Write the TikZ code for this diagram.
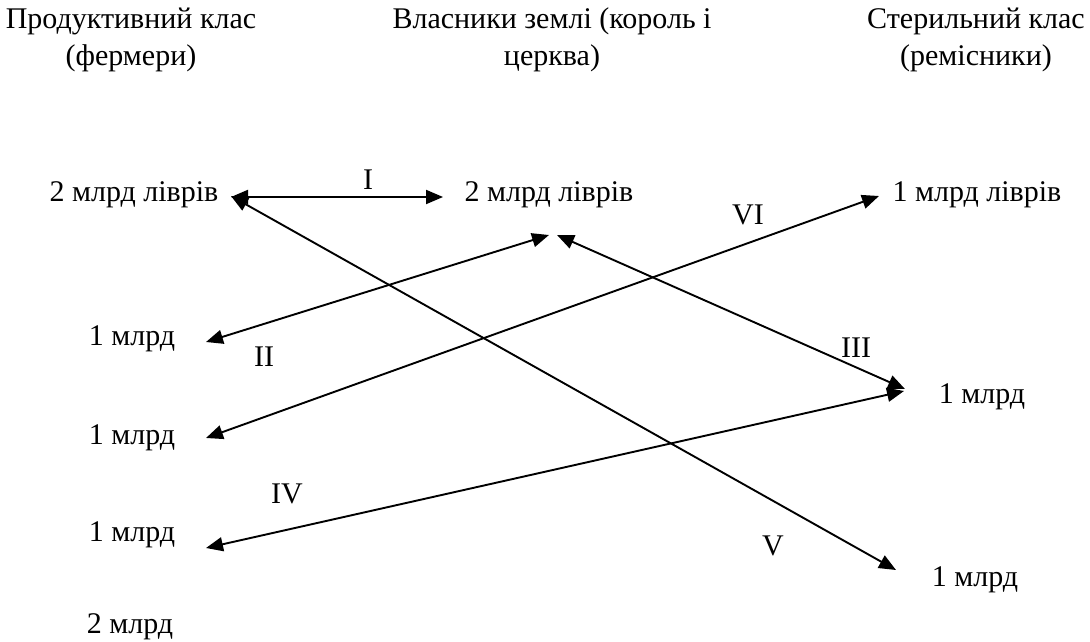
\documentclass[tikz,border=0pt]{standalone}
\usepackage{fontspec}
\setmainfont{Liberation Serif}
\usetikzlibrary{arrows.meta}
\begin{document}
\begin{tikzpicture}[x=1pt,y=-1pt,
  txt/.style={inner sep=0pt,font=\fontsize{30}{37}\selectfont,align=center},
  conn/.style={line width=1.9pt,{Triangle[length=17pt,width=14pt]}-{Triangle[length=17pt,width=14pt]}}]
\useasboundingbox (0,0) rectangle (1090,642);
% headers
\node[txt] (hA) at (131,40) {Продуктивний клас\\(фермери)};
\node[txt] (hB) at (552,40) {Власники землі (король і\\церква)};
\node[txt] (hC) at (976,40) {Стерильний клас\\(ремісники)};
% values
\node[txt,anchor=base] (a1) at (134,201) {2 млрд ліврів};
\node[txt,anchor=base] (b1) at (549,201) {2 млрд ліврів};
\node[txt,anchor=base] (c1) at (977,201) {1 млрд ліврів};
\node[txt,anchor=base] (a2) at (132,345) {1 млрд};
\node[txt,anchor=base] (a3) at (132,444) {1 млрд};
\node[txt,anchor=base] (a4) at (132,541) {1 млрд};
\node[txt,anchor=base] (a5) at (130,633) {2 млрд};
\node[txt,anchor=base] (c2) at (982,403) {1 млрд};
\node[txt,anchor=base] (c3) at (975,586) {1 млрд};
% roman labels
\node[txt] (lI) at (368,180) {I};
\node[txt] (lVI) at (748,215) {VI};
\node[txt] (lII) at (264,357) {II};
\node[txt] (lIII) at (856,348) {III};
\node[txt] (lIV) at (287,494) {IV};
\node[txt] (lV) at (773,546) {V};
% arrow ends
\coordinate (a1e) at (231,197);
\coordinate (a1se) at (231,196);
\coordinate (b1w) at (443,197);
\coordinate (b1sl) at (549,235);
\coordinate (b1sr) at (557,235);
\coordinate (c1w) at (879,196);
\coordinate (a2e) at (206,342);
\coordinate (a3e) at (206,438);
\coordinate (a4e) at (206,548);
\coordinate (c2w) at (905,389);
\coordinate (c2wl) at (904,391);
\coordinate (c3w) at (896,570);
% connectors
\draw[conn] (a1e) -- (b1w);
\draw[conn] (a2e) -- (b1sl);
\draw[conn] (b1sr) -- (c2w);
\draw[conn] (a3e) -- (c1w);
\draw[conn] (a4e) -- (c2wl);
\draw[conn] (a1se) -- (c3w);
\end{tikzpicture}
\end{document}
